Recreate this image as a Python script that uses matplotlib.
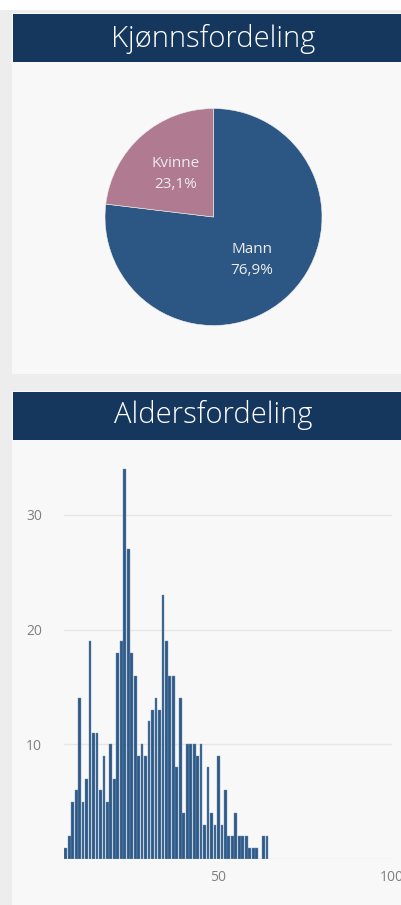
import matplotlib
matplotlib.use("Agg")
import matplotlib.pyplot as plt
from matplotlib.patches import Rectangle

# ---- data ----
gender_labels = ["Mann", "Kvinne"]
gender_share = [76.9, 23.1]

ages = list(range(6, 65))
age_counts = [1, 2, 5, 6, 14, 5, 7, 19, 11, 11, 6, 9, 5, 10, 7, 18, 19, 34, 27, 18,
              16, 9, 10, 9, 12, 13, 14, 13, 23, 19, 16, 16, 8, 14, 4, 10, 10, 10, 9, 10,
              3, 8, 4, 3, 9, 3, 6, 2, 2, 4, 2, 2, 2, 1, 1, 1, 0, 2, 2]
y_ticks = [10, 20, 30]
x_ticks = [50, 100]

title1 = "Kjønnsfordeling"
title2 = "Aldersfordeling"

# ---- style ----
W, H = 402, 905
DPI = 100
navy = "#15375E"
panel_bg = "#F8F8F8"
page_bg = "#EDEDED"
mann_col = "#2C5784"
kvinne_col = "#B07A91"
bar_col = "#2F5A88"
tick_col = "#7F7F7F"
grid_col = "#E6E6E6"
hfont = ["Open Sans", "DejaVu Sans"]

fig = plt.figure(figsize=(W / DPI, H / DPI), dpi=DPI)
fig.patch.set_facecolor(page_bg)


def rect_px(x0, y0, x1, y1, color):
    # pixel coordinates from top-left
    fig.patches.append(Rectangle((x0 / W, 1 - y1 / H), (x1 - x0) / W, (y1 - y0) / H,
                                 transform=fig.transFigure, facecolor=color,
                                 edgecolor="none", zorder=-10))


# top white strip
rect_px(0, 0, W, 10, "#FFFFFF")
# panel 1
rect_px(12, 13, W, 374, panel_bg)
rect_px(13, 14, W, 62, navy)
fig.text(213 / W, 1 - 39 / H, title1, color="white", fontsize=21, fontweight="light",
         family=hfont, ha="center", va="center")
# panel 2
rect_px(12, 391, W, H, panel_bg)
rect_px(13, 392, W, 440, navy)
fig.text(213 / W, 1 - 415 / H, title2, color="white", fontsize=21, fontweight="light",
         family=hfont, ha="center", va="center")

# ---- pie ----
cx, cy, r = 213.5, 217, 108.5
axp = fig.add_axes([(cx - r) / W, 1 - (cy + r) / H, 2 * r / W, 2 * r / H], zorder=2)
axp.set_facecolor("none")
lab_iter = iter(gender_labels)


def fmt(p):
    return "{}\n{}%".format(next(lab_iter), ("%.1f" % p).replace(".", ","))


wedges, texts, autotexts = axp.pie(gender_share, colors=[mann_col, kvinne_col], startangle=90,
                                   counterclock=False, autopct=fmt, pctdistance=0.53,
                                   wedgeprops=dict(edgecolor="#F0F0F0", linewidth=0.4),
                                   textprops=dict(color="#EDEDED", fontsize=11,
                                                  family=hfont, linespacing=1.55))
axp.set_xlim(-1, 1)
axp.set_ylim(-1, 1)
axp.set_aspect("equal")
axp.axis("off")

# ---- histogram ----
x0, x1 = 64, 392
y_top, y_base = 455, 859.3
axh = fig.add_axes([x0 / W, 1 - y_base / H, (x1 - x0) / W, (y_base - y_top) / H], zorder=2)
axh.set_facecolor("none")
axh.bar(ages, age_counts, width=0.8, color=bar_col, edgecolor="#6F8FB3", linewidth=0.3,
        zorder=3)
axh.set_xlim(5.5, 100)
axh.set_ylim(0, 35.2)
axh.set_yticks(y_ticks)
axh.set_xticks(x_ticks)
for v in [0] + y_ticks:
    axh.axhline(v, color=grid_col, linewidth=1, zorder=1)
for s in axh.spines.values():
    s.set_visible(False)
axh.tick_params(axis="both", length=0, colors=tick_col, labelsize=10)
axh.tick_params(axis="y", pad=16)
axh.tick_params(axis="x", pad=8)
for lbl in axh.get_xticklabels() + axh.get_yticklabels():
    lbl.set_family(hfont)

fig.savefig("out.png", dpi=DPI, facecolor=fig.get_facecolor())
